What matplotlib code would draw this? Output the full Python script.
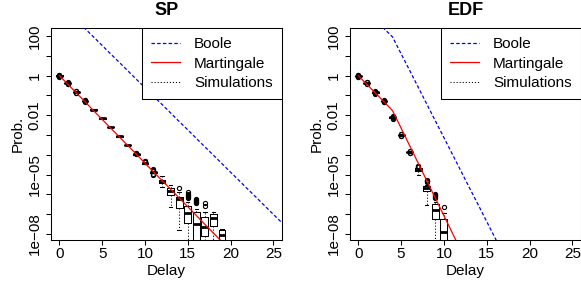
import matplotlib
matplotlib.use("Agg")
import matplotlib.pyplot as plt
import numpy as np
from matplotlib.lines import Line2D
from matplotlib.ticker import FixedLocator, FixedFormatter, NullLocator

# all values are log10(probability)

# bound curves, one value per delay 0, 1, 2, ...
sp_boole = [3.65, 3.23, 2.80, 2.37, 1.95, 1.52, 1.09, 0.67, 0.24, -0.19,
            -0.61, -1.04, -1.46, -1.89, -2.32, -2.74, -3.17, -3.60, -4.02,
            -4.45, -4.88, -5.30, -5.73, -6.15, -6.58, -7.01, -7.43]
sp_martingale = [0.0, -0.44, -0.88, -1.32, -1.77, -2.21, -2.65, -3.09, -3.53,
                 -3.97, -4.42, -4.86, -5.30, -5.74, -6.18, -6.62, -7.06,
                 -7.51, -7.95, -8.39, -8.83]
edf_boole = [3.65, 3.23, 2.80, 2.37, 1.95, 1.10, 0.26, -0.59, -1.44, -2.29,
             -3.13, -3.98, -4.83, -5.68, -6.52, -7.37, -8.22, -9.07]
edf_martingale = [0.0, -0.44, -0.88, -1.32, -1.77, -2.65, -3.54, -4.42, -5.31,
                  -6.19, -7.07, -7.96, -8.84]

# simulation boxplots, SP (delays 0..19)
sp_med = [0.0, -0.39, -0.83, -1.27, -1.72, -2.16, -2.61, -3.07, -3.52, -3.98,
          -4.43, -4.88, -5.35, -5.81, -6.25, -6.95, -7.48, -7.66, -7.17, -8.06]
sp_q3 = [0.01, -0.38, -0.82, -1.26, -1.71, -2.15, -2.60, -3.06, -3.51, -3.97,
         -4.42, -4.86, -5.27, -5.69, -6.12, -6.59, -6.90, -7.16, -6.99, -7.82]
sp_q1 = [-0.01, -0.40, -0.84, -1.28, -1.73, -2.17, -2.62, -3.08, -3.53, -3.99,
         -4.44, -4.90, -5.44, -6.03, -6.70, -7.46, -9.5, -8.12, -7.57, -9.5]
sp_hi = [0.02, -0.37, -0.81, -1.25, -1.70, -2.14, -2.59, -3.05, -3.50, -3.96,
         -4.41, -4.84, -5.06, -5.50, -5.86, -6.37, -6.75, -6.90, -6.91, -7.77]
sp_lo = [-0.02, -0.41, -0.85, -1.29, -1.74, -2.18, -2.63, -3.09, -3.54, -4.00,
         -4.45, -4.92, -5.61, -6.61, -7.80, -9.5, -9.5, -9.5, -9.5, -9.5]
sp_fliers = [[0.03, 0.05, -0.03, -0.05, 0.0], [-0.36, -0.34, -0.42, -0.44],
             [-0.80, -0.78, -0.86, -0.88], [-1.24, -1.22, -1.30, -1.32],
             [], [], [], [], [],
             [-3.93, -3.91, -3.95], [-4.33, -4.31, -4.36, -4.38],
             [-4.74, -4.77, -4.80, -4.96, -5.00], [], [], [-5.69],
             [-5.88, -5.96, -6.04, -6.10, -6.14, -6.20],
             [-6.22, -6.27, -6.32, -6.37, -6.42],
             [-6.42, -6.60], [], []]

# simulation boxplots, EDF (delays 0..10)
edf_med = [-0.01, -0.39, -0.85, -1.30, -2.11, -2.99, -3.87, -4.77, -5.69,
           -6.79, -7.88]
edf_q3 = [0.0, -0.38, -0.84, -1.29, -2.10, -2.98, -3.86, -4.69, -5.58,
          -6.48, -7.22]
edf_q1 = [-0.02, -0.40, -0.86, -1.31, -2.12, -3.00, -3.88, -4.84, -5.81,
          -7.26, -9.5]
edf_hi = [0.01, -0.37, -0.83, -1.28, -2.09, -2.97, -3.85, -4.66, -5.52,
          -6.36, -6.94]
edf_lo = [-0.03, -0.41, -0.87, -1.32, -2.13, -3.01, -3.89, -5.02, -6.54,
          -9.5, -9.5]
edf_fliers = [[0.03, 0.05, -0.05, -0.07, 0.0], [-0.35, -0.33, -0.43, -0.45],
              [-0.81, -0.79, -0.89, -0.91], [-1.26, -1.24, -1.34, -1.36],
              [-2.07, -2.05, -2.15, -2.17], [-2.95, -2.93, -3.03, -3.05],
              [-3.83, -3.81, -3.91, -3.93], [-4.55, -4.58, -4.61, -4.64],
              [-5.28, -5.31, -5.34, -5.37], [-5.98, -6.03, -6.08, -6.13, -6.18],
              [-6.62]]

y_ticks = [2, 1, 0, -1, -2, -3, -4, -5, -6, -7, -8]
y_labels = ["100", "", "1", "", "0.01", "", "", "1e\u221205", "", "",
            "1e\u221208"]
x_ticks = [0, 5, 10, 15, 20, 25]

plt.rcParams["font.family"] = ["Liberation Sans", "DejaVu Sans"]
plt.rcParams["lines.scale_dashes"] = False


def box_stats(med, q1, q3, lo, hi, fliers):
    stats = []
    for i in range(len(med)):
        stats.append(dict(med=10 ** med[i], q1=10 ** q1[i], q3=10 ** q3[i],
                          whislo=10 ** lo[i], whishi=10 ** hi[i],
                          fliers=10 ** np.array(fliers[i], dtype=float)))
    return stats


def panel(ax, title, boole, mart, stats):
    dotted = (0, (0.8, 1.4))
    ax.bxp(stats, positions=list(range(len(stats))), widths=0.8,
           capwidths=0.4, manage_ticks=False,
           boxprops=dict(color="black", lw=0.75),
           medianprops=dict(color="black", lw=2.0),
           whiskerprops=dict(color="black", lw=0.75, linestyle=dotted),
           capprops=dict(color="black", lw=0.75),
           flierprops=dict(marker="o", markerfacecolor="none",
                           markeredgecolor="black", markersize=3,
                           markeredgewidth=0.8))
    ax.plot(range(len(mart)), 10 ** np.array(mart), color="red", lw=0.9,
            zorder=4)
    ax.plot(range(len(boole)), 10 ** np.array(boole), color="blue", lw=0.9,
            linestyle=(0, (2.5, 1.6)), zorder=4)

    ax.set_yscale("log")
    ax.set_xlim(-1, 26)
    ax.set_ylim(10 ** -8.3, 10 ** 2.4)
    ax.yaxis.set_major_locator(FixedLocator([10.0 ** k for k in y_ticks]))
    ax.yaxis.set_major_formatter(FixedFormatter(y_labels))
    ax.yaxis.set_minor_locator(NullLocator())
    ax.set_xticks(x_ticks)
    ax.tick_params(length=3.5, width=0.75, labelsize=11, pad=1.8)
    ax.tick_params(axis="y", labelrotation=90, pad=3)
    for lab in ax.get_yticklabels():
        lab.set_va("center")
    for s in ax.spines.values():
        s.set_linewidth(0.75)

    ax.set_title(title, fontsize=13, fontweight="bold", pad=9)
    ax.set_xlabel("Delay", fontsize=11, labelpad=2)
    ax.set_ylabel("Prob.", fontsize=11, labelpad=2)

    handles = [Line2D([], [], color="blue", lw=0.9, linestyle=(0, (2.5, 1.6))),
               Line2D([], [], color="red", lw=0.9),
               Line2D([], [], color="black", lw=0.75, linestyle=dotted)]
    leg = ax.legend(handles, ["Boole", "Martingale", "Simulations"],
                    loc="upper right", bbox_to_anchor=(1, 1), borderaxespad=0,
                    fancybox=False, framealpha=1, edgecolor="black",
                    fontsize=11, handlelength=1.9, handletextpad=0.9,
                    borderpad=0.6, labelspacing=0.35)
    leg.get_frame().set_linewidth(0.75)


def main():
    fig = plt.figure(figsize=(5.81, 2.85), dpi=100)
    ax1 = fig.add_axes([0.0873, 0.1579, 0.398, 0.7439])
    ax2 = fig.add_axes([0.6019, 0.1579, 0.398, 0.7439])

    panel(ax1, "SP", sp_boole, sp_martingale,
          box_stats(sp_med, sp_q1, sp_q3, sp_lo, sp_hi, sp_fliers))
    panel(ax2, "EDF", edf_boole, edf_martingale,
          box_stats(edf_med, edf_q1, edf_q3, edf_lo, edf_hi, edf_fliers))

    fig.savefig("out.png", dpi=100)


if __name__ == "__main__":
    main()
